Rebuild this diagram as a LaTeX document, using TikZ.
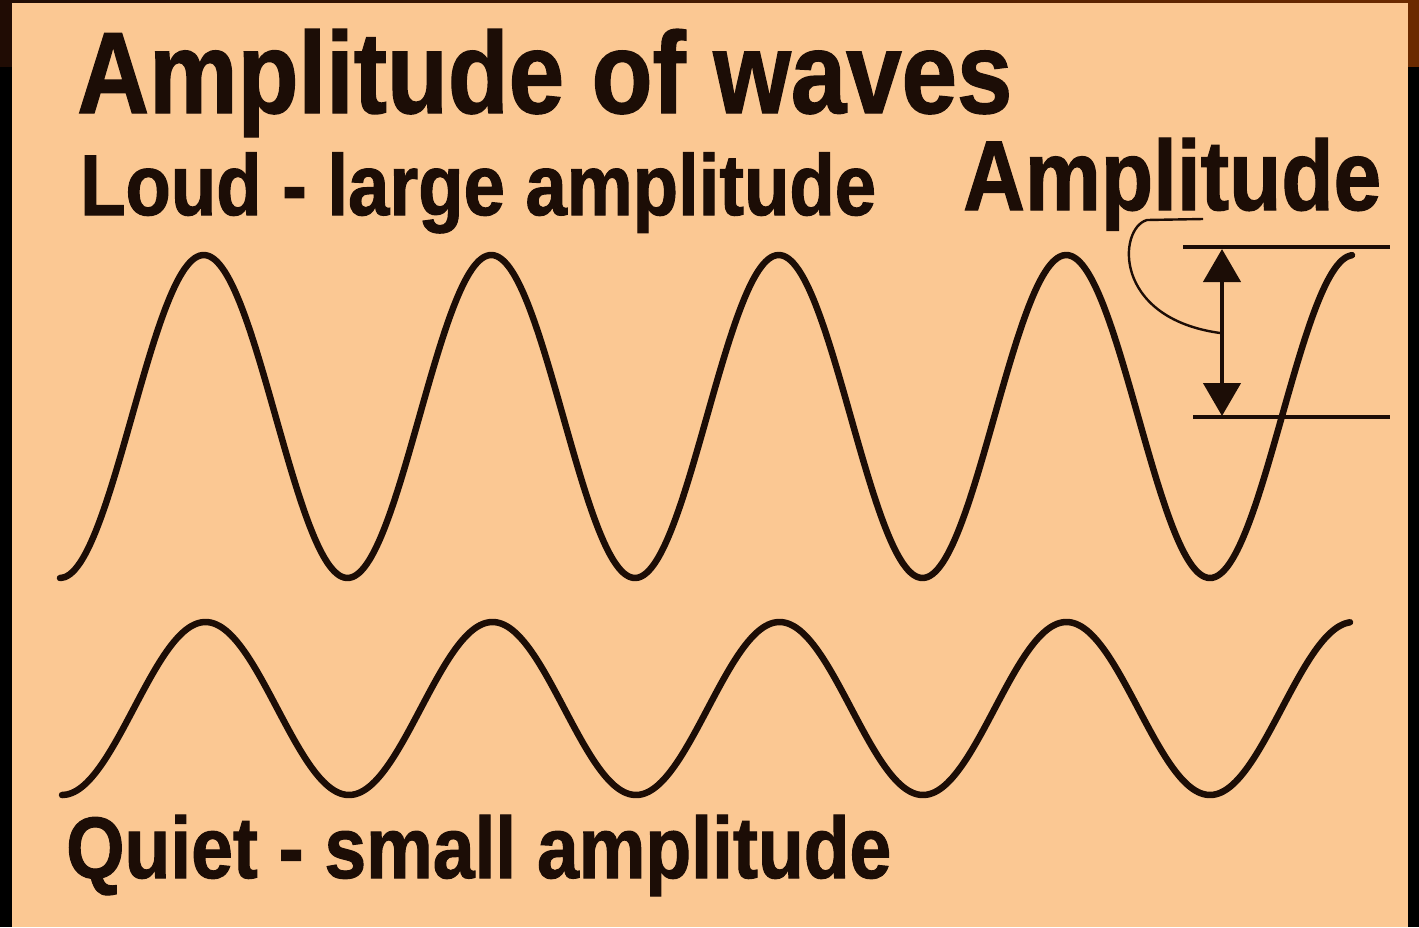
\documentclass[tikz,border=0pt]{standalone}
\usepackage{fontspec}
\setmainfont{Liberation Sans}
\newfontfamily\condbold[FakeStretch=0.86,FakeBold=1.2]{Liberation Sans}
\usetikzlibrary{positioning,arrows.meta}
\definecolor{wvpeach}{HTML}{FBC893}
\definecolor{wvink}{HTML}{1C0D06}
\definecolor{wvbrown}{HTML}{6B2A00}
\definecolor{wvdark}{HTML}{200C04}
\newcommand{\wvsize}[1]{\condbold\bfseries\fontsize{#1pt}{#1pt}\selectfont}

\begin{document}
\begin{tikzpicture}[
  x=1pt, y=-1pt,
  txt/.style={anchor=base west, inner sep=0pt, text=wvink},
  wave/.style={draw=wvink, line width=6.5pt, line join=round, line cap=round},
  guide/.style={draw=wvink, line width=3.4pt},
  leader/.style={draw=wvink, line width=2.4pt},
  dim/.style={{Triangle[length=33pt,width=37pt]}-{Triangle[length=33pt,width=37pt]}, draw=wvink, fill=wvink, line width=4.5pt}
]
% frame and paper
\useasboundingbox (0,0) rectangle (1419,927);
\shade[left color=wvdark, right color=wvbrown] (0,0) rectangle (1419,67);
\fill[black] (0,67) rectangle (1419,927);
\fill[wvpeach] (12,3) rectangle (1408,927);

% headings
\node[txt, font={\wvsize{115.8}}] (title) at (77,113) {Amplitude of waves};
\node[txt, font={\wvsize{86.3}}] (loud) at (80,215) {Loud - large amplitude};
\node[txt, font={\wvsize{99.4}}] (ampl) at (963,210) {Amplitude};
\node[txt, font={\wvsize{87.2}}] (quiet) at (66,878) {Quiet - small amplitude};

% waves (360/287.5 and 360/287 degrees per pixel)
\draw[wave] plot[domain=60:1352, samples=260, smooth] (\x,{416.5+161.5*cos(1.25217*(\x-60))});
\draw[wave] plot[domain=62:1350, samples=260, smooth] (\x,{708.5+86.5*cos(1.25436*(\x-62))});

% amplitude marker
\coordinate (crest1) at (1183,247);
\coordinate (crest2) at (1390,247);
\coordinate (rest1) at (1193,417);
\coordinate (rest2) at (1390,417);
\coordinate (amptop) at (1222,249);
\coordinate (ampbot) at (1222,416);
\coordinate (ulA) at (1203,219);
\coordinate (ulB) at (1147,220);
\coordinate (hook) at (1220,333);
\draw[guide] (crest1) -- (crest2);
\draw[guide] (rest1) -- (rest2);
\draw[dim] (ampbot) -- (amptop);
\draw[leader] (ulA) -- (ulB) .. controls (1118,228) and (1112,318) .. (hook);
\end{tikzpicture}
\end{document}
